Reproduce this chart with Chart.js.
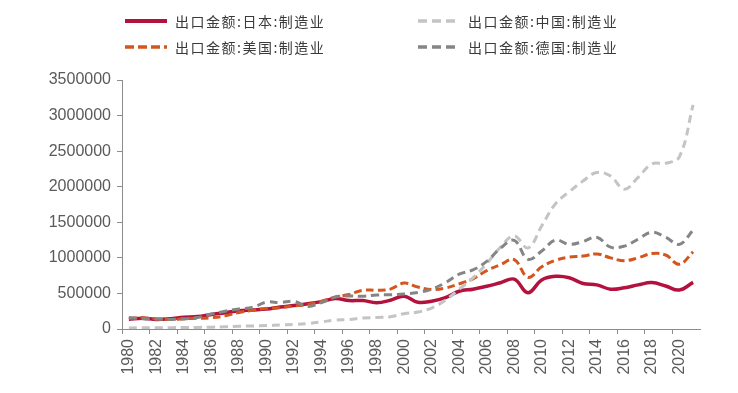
<!DOCTYPE html>
<html>
<head>
<meta charset="utf-8">
<script src="https://cdn.jsdelivr.net/npm/chart.js@4"></script>
<style>
  html, body { margin: 0; padding: 0; background: #fff; }
  #wrap { position: relative; width: 738px; height: 393px; }
  #chart { position: absolute; left: 0; top: 0; }
  .legend-item {
    position: absolute;
    height: 20px;
    display: flex;
    align-items: center;
    font-family: "Noto Sans CJK SC", sans-serif;
    font-size: 14px;
    letter-spacing: 1.5px;
    color: #3a3a3a;
    white-space: nowrap;
  }
  .legend-item svg { margin-right: 8px; }
</style>
</head>
<body>
<div id="wrap">
  <canvas id="chart" width="738" height="393"></canvas>
  <div id="legend"></div>
</div>
<script>
// Data
const years = [
  "1980", "1981", "1982", "1983", "1984", "1985", "1986", "1987", "1988", "1989",
  "1990", "1991", "1992", "1993", "1994", "1995", "1996", "1997", "1998", "1999",
  "2000", "2001", "2002", "2003", "2004", "2005", "2006", "2007", "2008", "2009",
  "2010", "2011", "2012", "2013", "2014", "2015", "2016", "2017", "2018", "2019",
  "2020", "2021"
];
const japan = [
  138000, 150000, 135000, 145000, 165000, 175000, 205000, 228000, 258000, 268000,
  280000, 310000, 330000, 355000, 385000, 430000, 400000, 400000, 370000, 405000,
  460000, 375000, 390000, 440000, 530000, 560000, 600000, 650000, 700000, 510000,
  690000, 740000, 720000, 640000, 620000, 560000, 580000, 620000, 652000, 605000,
  548000, 655000
];
const usa = [
  148000, 158000, 142000, 132000, 145000, 150000, 158000, 185000, 232000, 262000,
  290000, 300000, 325000, 345000, 390000, 450000, 485000, 545000, 545000, 560000,
  645000, 590000, 555000, 575000, 635000, 705000, 820000, 905000, 975000, 725000,
  875000, 965000, 1010000, 1025000, 1055000, 1000000, 960000, 1000000, 1060000, 1040000,
  910000, 1085000
];
const china = [
  15000, 18000, 18000, 19000, 20000, 22000, 26000, 31000, 38000, 43000,
  48000, 55000, 65000, 78000, 100000, 125000, 132000, 155000, 162000, 172000,
  215000, 238000, 295000, 405000, 560000, 720000, 920000, 1150000, 1310000, 1140000,
  1450000, 1760000, 1930000, 2080000, 2200000, 2150000, 1965000, 2130000, 2320000, 2330000,
  2420000, 3150000
];
const germany = [
  160000, 145000, 140000, 135000, 142000, 162000, 210000, 250000, 282000, 305000,
  378000, 372000, 388000, 318000, 372000, 448000, 465000, 460000, 478000, 482000,
  492000, 512000, 560000, 650000, 770000, 830000, 950000, 1135000, 1245000, 980000,
  1095000, 1250000, 1190000, 1230000, 1290000, 1150000, 1165000, 1262000, 1360000, 1290000,
  1190000, 1390000
];
const yTicks = [0, 500000, 1000000, 1500000, 2000000, 2500000, 3000000, 3500000];

// Series styles (drawing order: Germany, China, USA, Japan on top)
const series = [
  { label: "出口金额:日本:制造业", data: japan, color: "#b3123e", width: 3.5, dash: [] },
  { label: "出口金额:中国:制造业", data: china, color: "#c4c4c4", width: 3, dash: [8, 5] },
  { label: "出口金额:美国:制造业", data: usa, color: "#d3561f", width: 3, dash: [8, 4] },
  { label: "出口金额:德国:制造业", data: germany, color: "#858585", width: 3, dash: [8, 5] },
];

// Legend (HTML, two columns)
const legendPos = [
  { left: 125, top: 11 },
  { left: 418, top: 11 },
  { left: 125, top: 37 },
  { left: 418, top: 37 },
];
const legendEl = document.getElementById("legend");
series.forEach((s, i) => {
  const item = document.createElement("div");
  item.className = "legend-item";
  item.style.left = legendPos[i].left + "px";
  item.style.top = legendPos[i].top + "px";
  const dash = s.dash.length ? `stroke-dasharray="${s.dash[0] + 1} ${s.dash[1]}"` : "";
  item.innerHTML =
    `<svg width="42" height="8"><line x1="0" y1="4" x2="42" y2="4" stroke="${s.color}" stroke-width="${s.width + 0.5}" ${dash}/></svg>` +
    `<span>${s.label}</span>`;
  legendEl.appendChild(item);
});

const axisColor = "#8c8c8c";
const tickFont = { family: "'Liberation Sans', Arial, sans-serif", size: 16 };

const chart = new Chart(document.getElementById("chart"), {
  type: "line",
  data: {
    labels: years,
    datasets: [3, 1, 2, 0].map((i) => ({
      label: series[i].label,
      data: series[i].data,
      borderColor: series[i].color,
      borderWidth: series[i].width,
      borderDash: series[i].dash,
      borderCapStyle: "butt",
      pointRadius: 0,
      fill: false,
      tension: 0.4,
    })),
  },
  options: {
    responsive: false,
    animation: false,
    layout: { padding: { left: 0, right: 38, top: 80, bottom: 0 } },
    plugins: {
      legend: { display: false },
      tooltip: { enabled: false },
    },
    scales: {
      x: {
        type: "category",
        offset: true,
        border: { display: true, color: axisColor, width: 1 },
        grid: {
          display: true,
          offset: true,
          drawOnChartArea: false,
          drawTicks: true,
          tickLength: 5,
          tickColor: (ctx) => (ctx.index % 2 === 0 ? axisColor : "rgba(0,0,0,0)"),
        },
        ticks: {
          autoSkip: false,
          maxRotation: 90,
          minRotation: 90,
          padding: 5,
          color: "#5a5a5a",
          font: tickFont,
          callback: (val, idx) => (idx % 2 === 0 ? years[idx] : ""),
        },
        afterFit: (scale) => { scale.height = 64; },
      },
      y: {
        min: 0,
        max: 3500000,
        border: { display: true, color: axisColor, width: 1 },
        grid: {
          display: true,
          drawOnChartArea: false,
          drawTicks: true,
          tickLength: 5,
          color: axisColor,
        },
        afterBuildTicks: (scale) => {
          scale.ticks = yTicks.map((v) => ({ value: v }));
        },
        ticks: {
          padding: 6,
          color: "#5a5a5a",
          font: tickFont,
          callback: (v) => String(v),
        },
        afterFit: (scale) => { scale.width = 122; },
      },
    },
  },
});
</script>
</body>
</html>
